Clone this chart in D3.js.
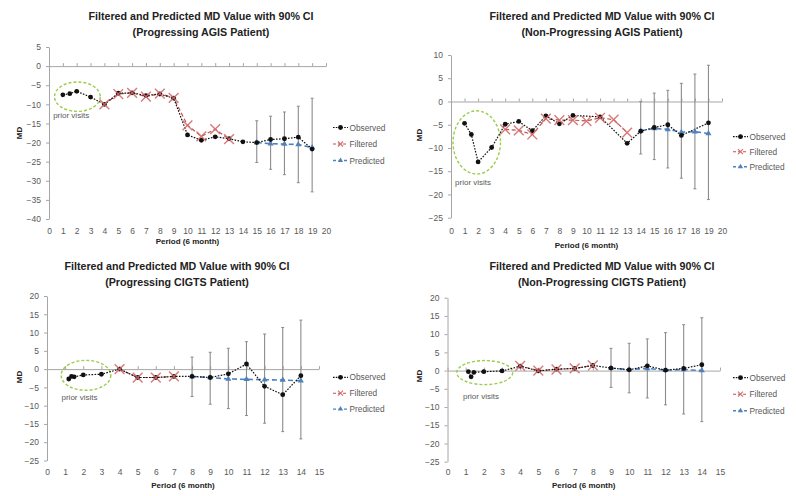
<!DOCTYPE html>
<html>
<head>
<meta charset="utf-8">
<script src="https://cdn.jsdelivr.net/npm/d3@7"></script>
<style>
  body { margin: 0; background: #fff; }
  svg { display: block; }
  text { font-family: "Liberation Sans", Arial, sans-serif; }
</style>
</head>
<body>
<svg id="chart" width="796" height="496"></svg>
<script>
// ---------- Progressing AGIS patient ----------
const agisProgObsX  = [1, 1.5, 2, 3, 4, 5, 6, 7, 8, 9, 10, 11, 12, 13, 14, 15, 16, 17, 18, 19];
const agisProgObs   = [-7.5, -7.2, -6.6, -8.1, -10, -7.1, -7, -7.7, -7.3, -8.4, -18, -19.4, -18.5, -19, -19.8, -20, -19.2, -19, -18.6, -21.7];
const agisProgFiltX = [4, 5, 6, 7, 8, 9, 10, 11, 12, 13];
const agisProgFilt  = [-10, -7.3, -7, -8, -7.2, -8.3, -15.5, -18.4, -16.5, -19.1];
const agisProgPredX = [15, 16, 17, 18, 19];
const agisProgPred  = [-20, -20.3, -20.4, -20.5, -21.3];
const agisProgLo    = [-25.2, -27, -28.4, -30.5, -32.9];
const agisProgHi    = [-14.3, -13.1, -12, -10.5, -8.4];

// ---------- Non-progressing AGIS patient ----------
const agisNonObsX  = [1, 1.5, 2, 3, 4, 5, 6, 7, 8, 9, 11, 13, 14, 15, 16, 17, 19];
const agisNonObs   = [-4.7, -7.1, -13, -9.9, -4.9, -4.3, -6.3, -3.1, -4.8, -3.0, -3.3, -9.0, -6.4, -5.6, -5.0, -7.3, -4.6];
const agisNonFiltX = [4, 5, 6, 7, 8, 9, 10, 11, 12, 13];
const agisNonFilt  = [-6.0, -6.2, -7.1, -3.7, -4.0, -4.0, -4.2, -3.5, -3.9, -6.7];
const agisNonPredX = [14, 15, 16, 17, 18, 19];
const agisNonPred  = [-6.3, -5.8, -6.0, -6.6, -6.5, -6.9];
const agisNonLo    = [-11.3, -12.5, -14.3, -16.5, -18.8, -21.1];
const agisNonHi    = [0, 1.8, 2.4, 3.9, 5.9, 7.8];

// ---------- Progressing CIGTS patient ----------
const cigtsProgObsX  = [1.2, 1.35, 1.5, 2, 3, 4, 5, 6, 7, 8, 9, 10, 11, 12, 13, 14];
const cigtsProgObs   = [-2.7, -2.0, -2.1, -1.6, -1.4, 0, -2.3, -2.3, -2.0, -2.0, -2.3, -1.3, 1.4, -4.7, -7.0, -1.8];
const cigtsProgFiltX = [4, 5, 6, 7];
const cigtsProgFilt  = [0, -2.3, -2.3, -2.0];
const cigtsProgPredX = [8, 9, 10, 11, 12, 13, 14];
const cigtsProgPred  = [-2.0, -2.3, -2.7, -2.8, -2.9, -3.0, -3.2];
const cigtsProgLo    = [-7.5, -9.6, -10.8, -12.7, -14.8, -17.1, -19.1];
const cigtsProgHi    = [3.3, 4.6, 5.7, 7.5, 9.6, 11.4, 13.4];

// ---------- Non-progressing CIGTS patient ----------
const cigtsNonObsX  = [1.15, 1.3, 1.45, 2, 3, 4, 5, 6, 7, 8, 9, 10, 11, 12, 13, 14];
const cigtsNonObs   = [-0.3, -1.7, -0.5, -0.3, -0.1, 1.2, -0.1, 0.4, 0.6, 1.4, 0.7, 0.2, 1.3, 0.1, 0.6, 1.6];
const cigtsNonFiltX = [4, 5, 6, 7, 8];
const cigtsNonFilt  = [1.3, 0, 0.3, 0.6, 1.4];
const cigtsNonPredX = [9, 10, 11, 12, 13, 14];
const cigtsNonPred  = [0.7, 0.3, 0.6, 0.1, 0.3, 0];
const cigtsNonLo    = [-4.6, -6.1, -7.5, -9.4, -11.9, -14.0];
const cigtsNonHi    = [6.1, 7.5, 8.7, 10.4, 12.6, 14.5];

// ---------- tick labels and text ----------
const xTicks20 = d3.range(0, 21);
const xTicks15 = d3.range(0, 16);
const yTicksAgisProg = [5, 0, -5, -10, -15, -20, -25, -30, -35, -40];
const yTicksAgisNon  = [10, 5, 0, -5, -10, -15, -20, -25];
const yTicksCigts    = [20, 15, 10, 5, 0, -5, -10, -15, -20, -25];
const titleLine1 = "Filtered and Predicted MD Value with 90% CI";
const subtitles = ["(Progressing AGIS Patient)", "(Non-Progressing AGIS Patient)",
                   "(Progressing CIGTS Patient)", "(Non-Progressing CIGTS Patient)"];
const seriesNames = ["Observed", "Filtered", "Predicted"];
const xAxisTitle = "Period (6 month)";
const yAxisTitle = "MD";
const priorLabel = "prior visits";

const zip = (xs, ys) => xs.map((v, i) => [v, ys[i]]);

// Panel layouts (pixel placement + annotation ellipse in data units)
const panels = [
  { sub: subtitles[0], xTicks: xTicks20, yTicks: yTicksAgisProg,
    obs: zip(agisProgObsX, agisProgObs), filt: zip(agisProgFiltX, agisProgFilt),
    pred: zip(agisProgPredX, agisProgPred), lo: agisProgLo, hi: agisProgHi,
    xr: [49, 326], yr: [219, 47], titleX: 201, titleY: [19.5, 36],
    xLabY: 231, xTitleY: 243.5, yTitleX: 22, yTitleY: 133,
    legend: [333, 127.5, 16.5], ell: [2.05, -8, 1.65, 3.85], priorAt: [0.3, -13.5] },
  { sub: subtitles[1], xTicks: xTicks20, yTicks: yTicksAgisNon,
    obs: zip(agisNonObsX, agisNonObs), filt: zip(agisNonFiltX, agisNonFilt),
    pred: zip(agisNonPredX, agisNonPred), lo: agisNonLo, hi: agisNonHi,
    xr: [451, 722], yr: [217.7, 55], titleX: 602, titleY: [19.5, 36],
    xLabY: 231, xTitleY: 248, yTitleX: 422, yTitleY: 135,
    legend: [733, 136.7, 15], ell: [1.9, -8.8, 1.75, 6.8], priorAt: [0.3, -18] },
  { sub: subtitles[2], xTicks: xTicks15, yTicks: yTicksCigts,
    obs: zip(cigtsProgObsX, cigtsProgObs), filt: zip(cigtsProgFiltX, cigtsProgFilt),
    pred: zip(cigtsProgPredX, cigtsProgPred), lo: cigtsProgLo, hi: cigtsProgHi,
    xr: [47, 319], yr: [460.5, 296], titleX: 177, titleY: [269.5, 286],
    xLabY: 472, xTitleY: 488, yTitleX: 22, yTitleY: 377,
    legend: [333, 377.3, 15.9], ell: [2.15, -1.7, 1.37, 4.1], priorAt: [0.8, -8.4] },
  { sub: subtitles[3], xTicks: xTicks15, yTicks: yTicksCigts,
    obs: zip(cigtsNonObsX, cigtsNonObs), filt: zip(cigtsNonFiltX, cigtsNonFilt),
    pred: zip(cigtsNonPredX, cigtsNonPred), lo: cigtsNonLo, hi: cigtsNonHi,
    xr: [447.5, 720], yr: [461.7, 297.7], titleX: 602, titleY: [269.5, 286],
    xLabY: 472, xTitleY: 488, yTitleX: 422, yTitleY: 376,
    legend: [733, 377.7, 16.5], ell: [2.05, -0.55, 1.54, 3.3], priorAt: [0.85, -7.7] }
];

const C = {
  axis: "#a6a6a6", label: "#595959", title: "#222",
  obs: "#111", filt: "#c0504d", filtMark: "#d46a6a",
  pred: "#4f81bd", err: "#8c8c8c", ell: "#9acd4a"
};

const svg = d3.select("#chart");
const symX = d3.symbol().type(d3.symbolX).size(64);
const symTri = d3.symbol().type(d3.symbolTriangle).size(16);

function drawPanel(p) {
  const xd = d3.extent(p.xTicks), yd = d3.extent(p.yTicks);
  const x = d3.scaleLinear().domain(xd).range(p.xr);
  const y = d3.scaleLinear().domain(yd).range(p.yr);
  const g = svg.append("g");

  // titles
  [titleLine1, p.sub].forEach((t, i) =>
    g.append("text").attr("x", p.titleX).attr("y", p.titleY[i])
      .attr("text-anchor", "middle").attr("font-weight", "bold")
      .attr("font-size", 10.7).attr("fill", C.title).text(t));

  // y axis
  const ya = g.append("g").attr("transform", `translate(${x(xd[0])},0)`)
    .call(d3.axisLeft(y).tickValues(p.yTicks).tickSize(3).tickSizeOuter(0).tickPadding(5));
  ya.select(".domain").attr("stroke", C.axis);
  ya.selectAll(".tick line").attr("stroke", C.axis);
  ya.selectAll(".tick text").attr("font-size", 8.5).attr("fill", C.label)
    .attr("font-family", "Liberation Sans, Arial, sans-serif");

  // x axis line through zero, with tick marks
  const xa = g.append("g").attr("transform", `translate(0,${y(0)})`)
    .call(d3.axisTop(x).tickValues(p.xTicks).tickSize(3).tickSizeOuter(0).tickFormat(""));
  xa.select(".domain").attr("stroke", C.axis);
  xa.selectAll(".tick line").attr("stroke", C.axis);

  // x tick labels along the bottom
  const xl = g.append("g").attr("transform", `translate(0,${p.xLabY})`)
    .call(d3.axisBottom(x).tickValues(p.xTicks).tickSize(0).tickPadding(0));
  xl.select(".domain").remove();
  xl.selectAll(".tick text").attr("dy", "0.35em").attr("font-size", 8.5)
    .attr("fill", C.label).attr("font-family", "Liberation Sans, Arial, sans-serif");

  // axis titles
  g.append("text").attr("x", (p.xr[0] + p.xr[1]) / 2).attr("y", p.xTitleY)
    .attr("text-anchor", "middle").attr("font-weight", "bold").attr("font-size", 8)
    .attr("fill", C.title).text(xAxisTitle);
  g.append("text").attr("transform", `translate(${p.yTitleX},${p.yTitleY}) rotate(-90)`)
    .attr("text-anchor", "middle").attr("font-weight", "bold").attr("font-size", 8)
    .attr("fill", C.title).text(yAxisTitle);

  // prior-visit ellipse and label
  const [ecx, ecy, erx, ery] = p.ell;
  g.append("ellipse").attr("cx", x(ecx)).attr("cy", y(ecy))
    .attr("rx", x(ecx + erx) - x(ecx)).attr("ry", y(ecy - ery) - y(ecy))
    .attr("fill", "none").attr("stroke", C.ell).attr("stroke-width", 1.4)
    .attr("stroke-dasharray", "3,2");
  g.append("text").attr("x", x(p.priorAt[0])).attr("y", y(p.priorAt[1]))
    .attr("font-size", 8).attr("fill", C.label).text(priorLabel);

  // 90% CI error bars on predicted points
  const bars = g.append("g");
  p.pred.forEach((d, i) => {
    const cx = x(d[0]);
    bars.append("line").attr("x1", cx).attr("x2", cx)
      .attr("y1", y(p.hi[i])).attr("y2", y(p.lo[i]))
      .attr("stroke", C.err).attr("stroke-width", 1.1);
    [p.hi[i], p.lo[i]].forEach(v => bars.append("line")
      .attr("x1", cx - 1.5).attr("x2", cx + 1.5).attr("y1", y(v)).attr("y2", y(v))
      .attr("stroke", C.err).attr("stroke-width", 1));
  });

  const line = d3.line().x(d => x(d[0])).y(d => y(d[1]));
  g.append("path").datum(p.filt).attr("d", line).attr("fill", "none")
    .attr("stroke", C.filt).attr("stroke-width", 1.2).attr("stroke-dasharray", "4,2.5");
  g.append("path").datum(p.pred).attr("d", line).attr("fill", "none")
    .attr("stroke", C.pred).attr("stroke-width", 1.6).attr("stroke-dasharray", "5,3");
  g.append("path").datum(p.obs).attr("d", line).attr("fill", "none")
    .attr("stroke", C.obs).attr("stroke-width", 1.2).attr("stroke-dasharray", "1.6,1.4");

  g.selectAll(".tri").data(p.pred).join("path")
    .attr("transform", d => `translate(${x(d[0])},${y(d[1])})`)
    .attr("d", symTri).attr("fill", C.pred);
  g.selectAll(".dot").data(p.obs).join("circle")
    .attr("cx", d => x(d[0])).attr("cy", d => y(d[1])).attr("r", 2.4).attr("fill", C.obs);
  g.selectAll(".xm").data(p.filt).join("path")
    .attr("transform", d => `translate(${x(d[0])},${y(d[1])})`)
    .attr("d", symX).attr("fill", "none").attr("stroke", C.filtMark)
    .attr("stroke-width", 1.4).attr("stroke-opacity", 0.9);

  // legend
  const [lx, ly, ls] = p.legend;
  const lw = 15;
  const styles = [
    { c: C.obs, dash: "1.6,1.2", w: 1.2 },
    { c: C.filt, dash: "3,2", w: 1.1 },
    { c: C.pred, dash: "3,2.5", w: 1.4 }];
  seriesNames.forEach((name, i) => {
    const yy = ly + i * ls;
    const lg = g.append("g");
    const s = styles[i];
    lg.append("line").attr("x1", lx).attr("x2", lx + lw).attr("y1", yy).attr("y2", yy)
      .attr("stroke", s.c).attr("stroke-width", s.w).attr("stroke-dasharray", s.dash);
    const mx = lx + lw / 2;
    if (i === 0) lg.append("circle").attr("cx", mx).attr("cy", yy).attr("r", 2.4).attr("fill", C.obs);
    if (i === 1) lg.append("path").attr("transform", `translate(${mx},${yy})`)
      .attr("d", d3.symbol().type(d3.symbolX).size(18)).attr("stroke", C.filtMark).attr("stroke-width", 1.1);
    if (i === 2) lg.append("path").attr("transform", `translate(${mx},${yy})`)
      .attr("d", d3.symbol().type(d3.symbolTriangle).size(12)).attr("fill", C.pred);
    lg.append("text").attr("x", lx + lw + 1.5).attr("y", yy + 3)
      .attr("font-size", 8.3).attr("fill", C.label).text(name);
  });
}

panels.forEach(drawPanel);
</script>
</body>
</html>
